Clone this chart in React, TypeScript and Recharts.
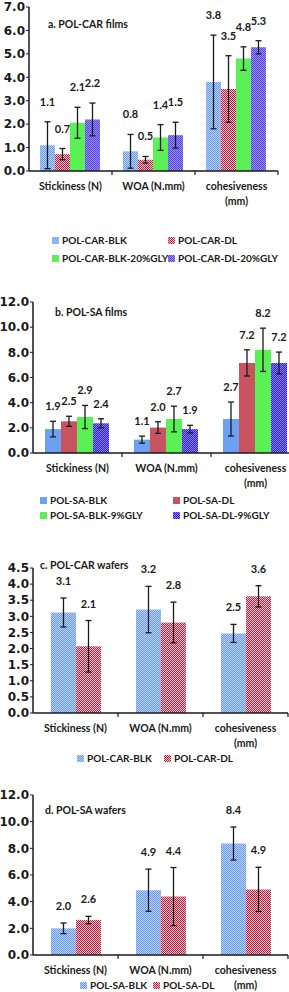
import React from "react";
import { BarChart, Bar, XAxis, YAxis, ErrorBar, LabelList } from "recharts";

const CATEGORIES = ["Stickiness (N)", "WOA (N.mm)", "cohesiveness (mm)"];

// a. POL-CAR films
const A_NAMES = ["POL-CAR-BLK", "POL-CAR-DL", "POL-CAR-BLK-20%GLY", "POL-CAR-DL-20%GLY"];
const A_BLK = [1.1, 0.84, 3.8];
const A_BLK_ERR = [1.0, 0.72, 2.0];
const A_DL = [0.72, 0.48, 3.5];
const A_DL_ERR = [0.24, 0.14, 1.42];
const A_BLK_GLY = [2.06, 1.43, 4.8];
const A_BLK_GLY_ERR = [0.66, 0.55, 0.5];
const A_DL_GLY = [2.2, 1.53, 5.28];
const A_DL_GLY_ERR = [0.7, 0.55, 0.28];
const A_TICKS = [0, 1, 2, 3, 4, 5, 6, 7];

// b. POL-SA films
const B_NAMES = ["POL-SA-BLK", "POL-SA-DL", "POL-SA-BLK-9%GLY", "POL-SA-DL-9%GLY"];
const B_BLK = [1.9, 1.06, 2.7];
const B_BLK_ERR = [0.62, 0.28, 1.35];
const B_DL = [2.52, 2.02, 7.16];
const B_DL_ERR = [0.4, 0.46, 1.04];
const B_BLK_GLY = [2.86, 2.7, 8.2];
const B_BLK_GLY_ERR = [0.92, 1.02, 1.72];
const B_DL_GLY = [2.36, 1.9, 7.16];
const B_DL_GLY_ERR = [0.36, 0.3, 0.86];
const B_TICKS = [0, 2, 4, 6, 8, 10, 12];

// c. POL-CAR wafers
const C_NAMES = ["POL-CAR-BLK", "POL-CAR-DL"];
const C_BLK = [3.12, 3.21, 2.47];
const C_BLK_ERR = [0.45, 0.72, 0.28];
const C_DL = [2.07, 2.81, 3.62];
const C_DL_ERR = [0.8, 0.63, 0.33];
const C_TICKS = [0, 0.5, 1, 1.5, 2, 2.5, 3, 3.5, 4, 4.5];

// d. POL-SA wafers
const D_NAMES = ["POL-SA-BLK", "POL-SA-DL"];
const D_BLK = [2.0, 4.86, 8.36];
const D_BLK_ERR = [0.4, 1.58, 1.24];
const D_DL = [2.62, 4.38, 4.92];
const D_DL_ERR = [0.28, 2.18, 1.66];
const D_TICKS = [0, 2, 4, 6, 8, 10, 12];

const INK = "#1a1a1a";
const FONT = "Lato, 'Noto Sans', sans-serif";

type Series = { name: string; values: number[]; errs: number[]; fill: string };

function Patterns() {
  const checker = (id: string, base: string, light: string) => (
    <pattern id={id} width="2" height="2" patternUnits="userSpaceOnUse">
      <rect width="2" height="2" fill={base} />
      <rect x="0" y="0" width="1" height="1" fill={light} />
      <rect x="1" y="1" width="1" height="1" fill={light} />
    </pattern>
  );
  return (
    <svg width="0" height="0" style={{ position: "absolute" }}>
      <defs>
        {checker("blueChk", "#6a9bf2", "#b8d0fa")}
        {checker("redChk", "#c21c3c", "#f3c8d0")}
        {checker("purpleChk", "#5646ea", "#998ef6")}
        {checker("indigoChk", "#2a1cee", "#8a82f6")}
      </defs>
    </svg>
  );
}

function CatTick({ x, y, payload }: any) {
  const text = String(payload.value);
  const cut = text.lastIndexOf(" ");
  const lines = text.length > 15 ? [text.slice(0, cut), text.slice(cut + 1)] : [text];
  const half = payload.offset ?? 0;
  return (
    <g>
      <line x1={x + half} x2={x + half} y1={y} y2={y + 4} stroke={INK} strokeWidth={1.2} />
      {lines.map((l, i) => (
        <text key={i} x={x} y={y + 19 + i * 15} textAnchor="middle" fontSize={10.5} fontWeight={700} fill={INK} fontFamily={FONT}>
          {l}
        </text>
      ))}
    </g>
  );
}

type PanelProps = {
  top: number; // plot top (page px)
  bottom: number; // plot bottom (page px)
  left: number;
  right: number;
  chartWidth: number;
  yMax: number;
  ticks: number[];
  gap: number;
  series: Series[];
  labelLift: number;
  title: { text: string; x: number; y: number };
  legend: { y: number; cols: number[]; rowGap: number };
};

function Panel(p: PanelProps) {
  const head = 24;
  const axisH = 40;
  const plotH = p.bottom - p.top;
  const ppu = plotH / p.yMax;
  const data = CATEGORIES.map((name, i) => {
    const row: any = { name };
    p.series.forEach((s, k) => {
      row[`v${k}`] = s.values[i];
      row[`e${k}`] = s.errs[i];
    });
    return row;
  });

  return (
    <>
      <div style={{ position: "absolute", left: 0, top: p.top - head }}>
        <BarChart
          width={p.chartWidth}
          height={head + plotH + axisH}
          data={data}
          margin={{ top: head, right: p.chartWidth - p.right, bottom: 0, left: 0 }}
          barCategoryGap={p.gap}
          barGap={0}
        >
          <YAxis
            width={p.left}
            domain={[0, p.yMax]}
            ticks={p.ticks}
            interval={0}
            tickFormatter={(v: number) => v.toFixed(1)}
            axisLine={{ stroke: INK, strokeWidth: 1.5 }}
            tickLine={{ stroke: INK }}
            tickSize={3}
            tickMargin={1}
            tick={{ fill: INK, fontSize: 12, fontWeight: 700, fontFamily: "'DejaVu Sans', sans-serif" }}
          />
          <XAxis
            dataKey="name"
            interval={0}
            height={axisH}
            axisLine={{ stroke: INK, strokeWidth: 1.5 }}
            tickLine={false}
            tickSize={0}
            tickMargin={0}
            tick={<CatTick />}
          />
          {p.series.map((s, k) => (
            <Bar key={s.name} dataKey={`v${k}`} fill={s.fill} isAnimationActive={false}>
              <ErrorBar dataKey={`e${k}`} width={3} stroke={INK} strokeWidth={1.3} direction="y" />
              <LabelList
                dataKey={`v${k}`}
                content={(lp: any) => {
                  const err = s.errs[lp.index] ?? 0;
                  const cx = lp.x + lp.width / 2;
                  const cy = lp.y - err * ppu - p.labelLift;
                  return (
                    <text x={cx} y={cy} dy={4} textAnchor="middle" fontSize={11} fontWeight={700} fill={INK} fontFamily={FONT}>
                      {Number(lp.value).toFixed(1)}
                    </text>
                  );
                }}
              />
            </Bar>
          ))}
        </BarChart>
      </div>
      <div
        style={{
          position: "absolute",
          left: p.title.x,
          top: p.title.y - 7,
          fontFamily: FONT,
          fontWeight: 700,
          fontSize: 10.5,
          color: INK,
          whiteSpace: "nowrap",
          lineHeight: "14px",
        }}
      >
        {p.title.text}
      </div>
      {p.series.map((s, k) => {
        const col = k % 2;
        const row = Math.floor(k / 2);
        return (
          <div
            key={s.name}
            style={{
              position: "absolute",
              left: p.legend.cols[col],
              top: p.legend.y + row * p.legend.rowGap - 7,
              display: "flex",
              alignItems: "center",
              fontFamily: FONT,
              fontWeight: 700,
              fontSize: 10,
              color: INK,
              whiteSpace: "nowrap",
              lineHeight: "14px",
            }}
          >
            <svg width={7} height={7} style={{ marginRight: 3 }}>
              <rect width={7} height={7} fill={s.fill} />
            </svg>
            {s.name}
          </div>
        );
      })}
    </>
  );
}

export default function App() {
  return (
    <div style={{ position: "absolute", left: 0, top: 0, width: 289, height: 992, overflow: "hidden", background: "#fff" }}>
      <Patterns />
      <Panel
        top={7}
        bottom={171}
        left={29}
        right={278}
        chartWidth={289}
        yMax={7}
        ticks={A_TICKS}
        gap={11}
        labelLift={20}
        series={[
          { name: A_NAMES[0], values: A_BLK, errs: A_BLK_ERR, fill: "url(#blueChk)" },
          { name: A_NAMES[1], values: A_DL, errs: A_DL_ERR, fill: "url(#redChk)" },
          { name: A_NAMES[2], values: A_BLK_GLY, errs: A_BLK_GLY_ERR, fill: "#5cf057" },
          { name: A_NAMES[3], values: A_DL_GLY, errs: A_DL_GLY_ERR, fill: "url(#purpleChk)" },
        ]}
        title={{ text: "a. POL-CAR films", x: 48, y: 24 }}
        legend={{ y: 240, cols: [52, 168], rowGap: 18 }}
      />
      <Panel
        top={302}
        bottom={453}
        left={33}
        right={300}
        chartWidth={300}
        yMax={12}
        ticks={B_TICKS}
        gap={12}
        labelLift={15}
        series={[
          { name: B_NAMES[0], values: B_BLK, errs: B_BLK_ERR, fill: "#6ea0f2" },
          { name: B_NAMES[1], values: B_DL, errs: B_DL_ERR, fill: "#c85462" },
          { name: B_NAMES[2], values: B_BLK_GLY, errs: B_BLK_GLY_ERR, fill: "#5cf057" },
          { name: B_NAMES[3], values: B_DL_GLY, errs: B_DL_GLY_ERR, fill: "url(#indigoChk)" },
        ]}
        title={{ text: "b. POL-SA films", x: 55, y: 312 }}
        legend={{ y: 500, cols: [40, 173], rowGap: 15 }}
      />
      <Panel
        top={568}
        bottom={713}
        left={33}
        right={288}
        chartWidth={289}
        yMax={4.5}
        ticks={C_TICKS}
        gap={18}
        labelLift={17}
        series={[
          { name: C_NAMES[0], values: C_BLK, errs: C_BLK_ERR, fill: "url(#blueChk)" },
          { name: C_NAMES[1], values: C_DL, errs: C_DL_ERR, fill: "url(#redChk)" },
        ]}
        title={{ text: "c. POL-CAR wafers", x: 40, y: 565 }}
        legend={{ y: 758, cols: [77, 164], rowGap: 15 }}
      />
      <Panel
        top={795}
        bottom={955}
        left={33}
        right={288}
        chartWidth={289}
        yMax={12}
        ticks={D_TICKS}
        gap={18}
        labelLift={17}
        series={[
          { name: D_NAMES[0], values: D_BLK, errs: D_BLK_ERR, fill: "url(#blueChk)" },
          { name: D_NAMES[1], values: D_DL, errs: D_DL_ERR, fill: "url(#redChk)" },
        ]}
        title={{ text: "d. POL-SA wafers", x: 45, y: 810 }}
        legend={{ y: 985, cols: [80, 153], rowGap: 15 }}
      />
    </div>
  );
}
